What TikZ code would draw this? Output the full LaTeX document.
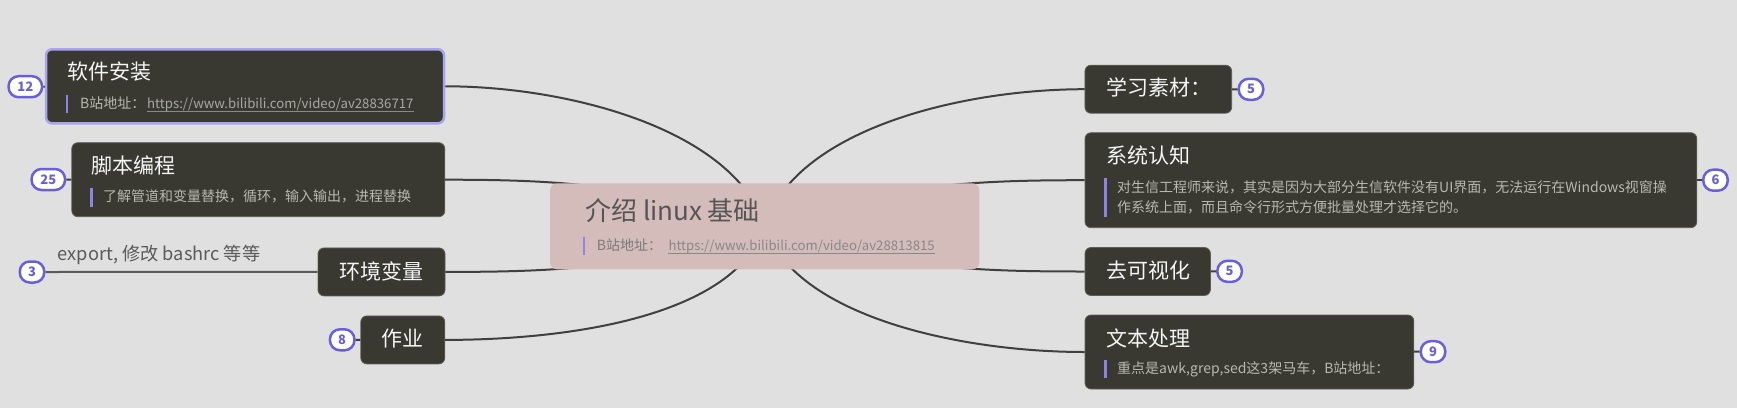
\documentclass[tikz,border=0pt]{standalone}
\usepackage{fontspec}
\setmainfont{Noto Sans CJK SC}
\definecolor{bg}{HTML}{E0E0E0}
\definecolor{boxc}{HTML}{393932}
\definecolor{boxedge}{HTML}{5E5E58}
\definecolor{titlec}{HTML}{F5F5F5}
\definecolor{subc}{HTML}{B8B8B0}
\definecolor{urlc}{HTML}{A8A8A8}
\definecolor{ulc}{HTML}{8A8A8A}
\definecolor{barc}{HTML}{8C84E6}
\definecolor{selc}{HTML}{A9A4EE}
\definecolor{badgec}{HTML}{6A5FDB}
\definecolor{linec}{HTML}{404040}
\definecolor{rootc}{HTML}{D3BCBA}
\definecolor{rootttl}{HTML}{555555}
\definecolor{rootsub}{HTML}{7A7A7A}
\definecolor{rooturl}{HTML}{888888}
\definecolor{expc}{HTML}{5A5A5A}
\tikzset{
  topic/.style={rectangle, rounded corners=6pt, fill=boxc, draw=boxedge, line width=0.8pt, inner sep=0pt},
  ttl/.style={anchor=base west, inner sep=0pt, text=titlec, font=\fontsize{21}{25}\selectfont},
  ctr/.style={anchor=center, inner sep=0pt, text=titlec, font=\fontsize{21}{25}\selectfont},
  sub/.style={anchor=base west, inner sep=0pt, text=subc, font=\fontsize{14}{20}\selectfont},
  url/.style={sub, text=urlc, font=\fontsize{13.2}{20}\selectfont},
  uline/.style={draw=ulc, line width=1pt},
  bar/.style={draw=barc, line width=2.5pt},
  conn/.style={draw=linec, line width=2pt},
  badge/.style={rectangle, rounded corners=10pt, draw=badgec, line width=2.5pt, fill=white, text=badgec,
    font=\fontsize{13}{13}\selectfont\bfseries, inner sep=0pt, minimum height=21pt, minimum width=24.5pt},
  wide/.style={minimum width=33.5pt},
}
\begin{document}
\begin{tikzpicture}[x=1pt,y=-1pt]
\fill[bg] (0,0) rectangle (1737,408);
\useasboundingbox (0,0) rectangle (1737,408);

% ---------- left topics ----------
\node[topic, minimum width=398pt, minimum height=74pt, draw=selc, line width=2.5pt] (soft) at (245,86.3) {};
\node[ttl] (softt) at (67,79.7) {软件安装};
\draw[bar] (67,95) -- (67,113);
\node[sub] (softl) at (80,108) {B站地址：};
\node[url] (softu) at (147,108) {https://www.bilibili.com/video/av28836717};
\draw[uline] ([yshift=-3pt]softu.base west) -- ([yshift=-3pt]softu.base east);

\node[topic, minimum width=373pt, minimum height=74pt] (script) at (258.3,179.7) {};
\node[ttl] (scriptt) at (91.7,173) {脚本编程};
\draw[bar] (91.5,188) -- (91.5,207);
\node[sub] (scripts) at (103,201) {了解管道和变量替换，循环，输入输出，进程替换};

\node[topic, minimum width=127pt, minimum height=48pt] (env) at (381.5,271.9) {};
\node[ctr] (envt) at (381,271.7) {环境变量};
\node[anchor=base west, inner sep=0pt, text=expc, font=\fontsize{18.2}{20}\selectfont] (exp) at (57.7,260) {export, 修改 bashrc 等等};

\node[topic, minimum width=84pt, minimum height=48pt] (work) at (402.8,339.9) {};
\node[ctr] (workt) at (402,338.3) {作业};

% ---------- right topics ----------
\node[topic, minimum width=146.7pt, minimum height=48pt] (study) at (1158.3,89.2) {};
\node[ttl] (studyt) at (1106,95.5) {学习素材：};

\node[topic, minimum width=611.8pt, minimum height=95pt] (sys) at (1390.9,180.2) {};
\node[ttl] (syst) at (1106,163.8) {系统认知};
\draw[bar] (1105.3,178.3) -- (1105.3,216.7);
\node[sub] (sys1) at (1117,192) {对生信工程师来说，其实是因为大部分生信软件没有UI界面，无法运行在Windows视窗操};
\node[sub] (sys2) at (1117,212) {作系统上面，而且命令行形式方便批量处理才选择它的。};

\node[topic, minimum width=125.4pt, minimum height=48pt] (devis) at (1147.7,271.5) {};
\node[ttl] (devist) at (1106,278.8) {去可视化};

\node[topic, minimum width=328.8pt, minimum height=74pt] (text) at (1249.4,352) {};
\node[ttl] (textt) at (1106,346.3) {文本处理};
\draw[bar] (1105.3,360) -- (1105.3,378.3);
\node[sub] (texts) at (1117,373.6) {重点是awk,grep,sed这3架马车，B站地址：};

% ---------- badges ----------
\node[badge, wide] (b12) at (25.3,86.7) {12};
\node[badge, wide] (b25) at (48.3,179.5) {25};
\node[badge] (b3) at (32,272) {3};
\node[badge] (b8) at (342.2,339.8) {8};
\node[badge] (b5a) at (1251,89.3) {5};
\node[badge] (b6) at (1715.5,180.2) {6};
\node[badge] (b5b) at (1229.6,271.3) {5};
\node[badge] (b9) at (1433,351.7) {9};

\draw[conn] (b12) -- (soft);
\draw[conn] (b25) -- (script);
\draw[conn, draw=expc] (b3) -- (env);
\draw[conn] (b8) -- (work);
\draw[conn] (study) -- (b5a);
\draw[conn] (sys) -- (b6);
\draw[conn] (devis) -- (b5b);
\draw[conn] (text) -- (b9);

% ---------- main connectors ----------
\coordinate (rc) at (764.7,226.3);
\draw[conn] (rc) .. controls +(-30,-96) and +(125,0) .. (soft.east);
\draw[conn] (rc) .. controls +(-125,-42) and +(115,0) .. (script.east);
\draw[conn] (rc) .. controls +(-125,42) and +(115,0) .. (env.east);
\draw[conn] (rc) .. controls +(-30,90) and +(125,0) .. (work.east);
\draw[conn] (rc) .. controls +(30,-96) and +(-125,0) .. (study.west);
\draw[conn] (rc) .. controls +(125,-42) and +(-115,0) .. (sys.west);
\draw[conn] (rc) .. controls +(125,42) and +(-115,0) .. (devis.west);
\draw[conn] (rc) .. controls +(30,90) and +(-125,0) .. (text.west);

% ---------- root ----------
\node[rectangle, rounded corners=7pt, fill=rootc, inner sep=0pt, minimum width=429.3pt, minimum height=86pt] (root) at (rc) {};
\node[anchor=base west, inner sep=0pt, text=rootttl, font=\fontsize{26}{30}\selectfont] (roott) at (585,220.7) {介绍 linux 基础};
\draw[bar] (584,236.7) -- (584,255);
\node[sub, text=rootsub] (rootl) at (596.7,250.3) {B站地址：};
\node[url, text=rooturl] (rootu) at (668.3,250.3) {https://www.bilibili.com/video/av28813815};
\draw[uline, draw=rooturl] ([yshift=-3pt]rootu.base west) -- ([yshift=-3pt]rootu.base east);
\end{tikzpicture}
\end{document}
